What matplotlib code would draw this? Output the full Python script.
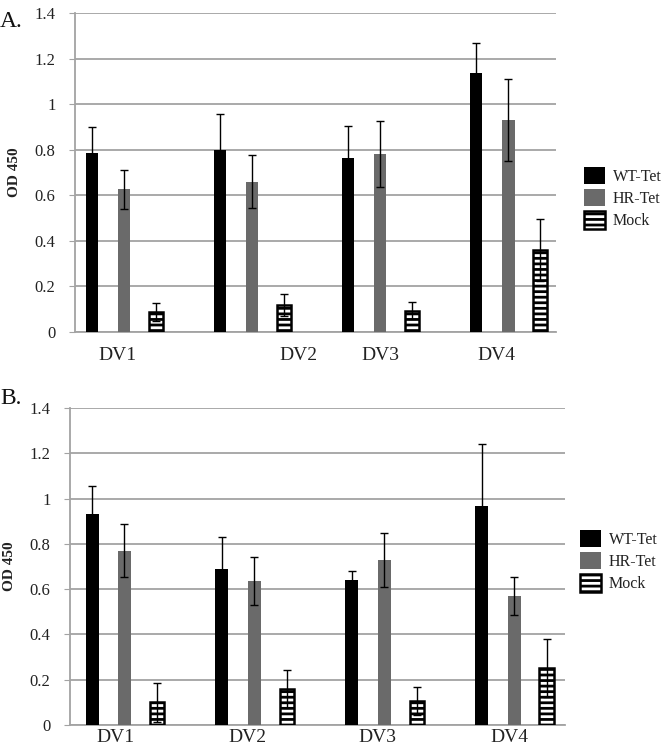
__doc__ = 'OD 450 readings for DV1-DV4, two panels'

import matplotlib
matplotlib.use('Agg')
import matplotlib.pyplot as plt
import numpy as np

plt.rcParams['font.family'] = ['Liberation Serif', 'DejaVu Serif']
plt.rcParams['hatch.linewidth'] = 2.0

categories = ['DV1', 'DV2', 'DV3', 'DV4']
series_names = ['WT-Tet', 'HR-Tet', 'Mock']

# panel A
a_wt = [0.787, 0.800, 0.762, 1.139]
a_wt_err = [0.111, 0.158, 0.143, 0.131]
a_hr = [0.627, 0.660, 0.781, 0.930]
a_hr_err = [0.085, 0.117, 0.145, 0.179]
a_mock = [0.088, 0.117, 0.094, 0.360]
a_mock_err = [0.038, 0.048, 0.036, 0.136]

# panel B
b_wt = [0.931, 0.688, 0.640, 0.969]
b_wt_err = [0.126, 0.144, 0.042, 0.271]
b_hr = [0.770, 0.635, 0.729, 0.570]
b_hr_err = [0.116, 0.106, 0.118, 0.085]
b_mock = [0.100, 0.160, 0.106, 0.252]
b_mock_err = [0.086, 0.083, 0.060, 0.129]

yticks = [0, 0.2, 0.4, 0.6, 0.8, 1, 1.2, 1.4]
ytick_labels = ['0', '0.2', '0.4', '0.6', '0.8', '1', '1.2', '1.4']


def draw_panel(ax, wt, wt_err, hr, hr_err, mock, mock_err, label_x, label_pad,
               xlim, legend_anchor):
  x = np.arange(len(categories))
  grid_col = '#a3a3a3'
  ekw = dict(ecolor='black', elinewidth=1.0, capthick=1.0, zorder=4)
  ax.bar(x - 0.25, wt, 0.10, yerr=wt_err, capsize=3, color='black',
         error_kw=ekw, label=series_names[0], zorder=3)
  ax.bar(x, hr, 0.10, yerr=hr_err, capsize=3, color='#6a6a6a',
         error_kw=ekw, label=series_names[1], zorder=3)
  ax.bar(x + 0.25, mock, 0.11, yerr=mock_err, capsize=3, color='white',
         edgecolor='black', linewidth=1.8, hatch='---',
         error_kw=ekw, label=series_names[2], zorder=3)

  ax.set_ylim(0, 1.4)
  ax.set_xlim(*xlim)
  ax.set_yticks(yticks)
  ax.set_yticklabels(ytick_labels, fontsize=12, color='#222222')
  ax.set_xticks(label_x)
  ax.set_xticklabels(categories, fontsize=14, color='#222222')
  ax.tick_params(axis='x', length=0, pad=label_pad)
  ax.tick_params(axis='y', length=4, color=grid_col, pad=10)
  ax.set_ylabel('OD 450', fontsize=11, fontweight='bold', color='#222222',
                labelpad=10)

  ax.grid(axis='y', color=grid_col, linewidth=1.3)
  ax.set_axisbelow(True)
  for side in ['top', 'right']:
    ax.spines[side].set_visible(False)
  ax.spines['left'].set_color(grid_col)
  ax.spines['left'].set_linewidth(1.3)
  ax.spines['bottom'].set_color(grid_col)
  ax.spines['bottom'].set_linewidth(1.3)

  leg = ax.legend(loc='center left', bbox_to_anchor=legend_anchor,
                  frameon=False, fontsize=11.5, handlelength=1.3,
                  handleheight=1.3, handletextpad=0.5, labelspacing=0.25,
                  borderaxespad=0.0)
  for t in leg.get_texts():
    t.set_color('#222222')


def main():
  fig = plt.figure(figsize=(6.66, 7.53), dpi=100)

  ax_a = fig.add_axes([0.1126, 0.559, 0.7224, 0.4237])
  draw_panel(ax_a, a_wt, a_wt_err, a_hr, a_hr_err, a_mock, a_mock_err,
             [-0.055, 1.36, 2.0, 2.91], 11, (-0.383, 3.375), (1.045, 0.42))

  ax_b = fig.add_axes([0.105, 0.0372, 0.743, 0.421])
  draw_panel(ax_b, b_wt, b_wt_err, b_hr, b_hr_err, b_mock, b_mock_err,
             [-0.07, 0.95, 1.95, 2.96], 3, (-0.42, 3.39), (1.018, 0.517))

  fig.text(0.0, 0.985, 'A.', fontsize=17, va='top', ha='left', color='#111111')
  fig.text(0.0, 0.485, 'B.', fontsize=17, va='top', ha='left', color='#111111')

  fig.savefig('out.png', dpi=100)


if __name__ == '__main__':
  main()
